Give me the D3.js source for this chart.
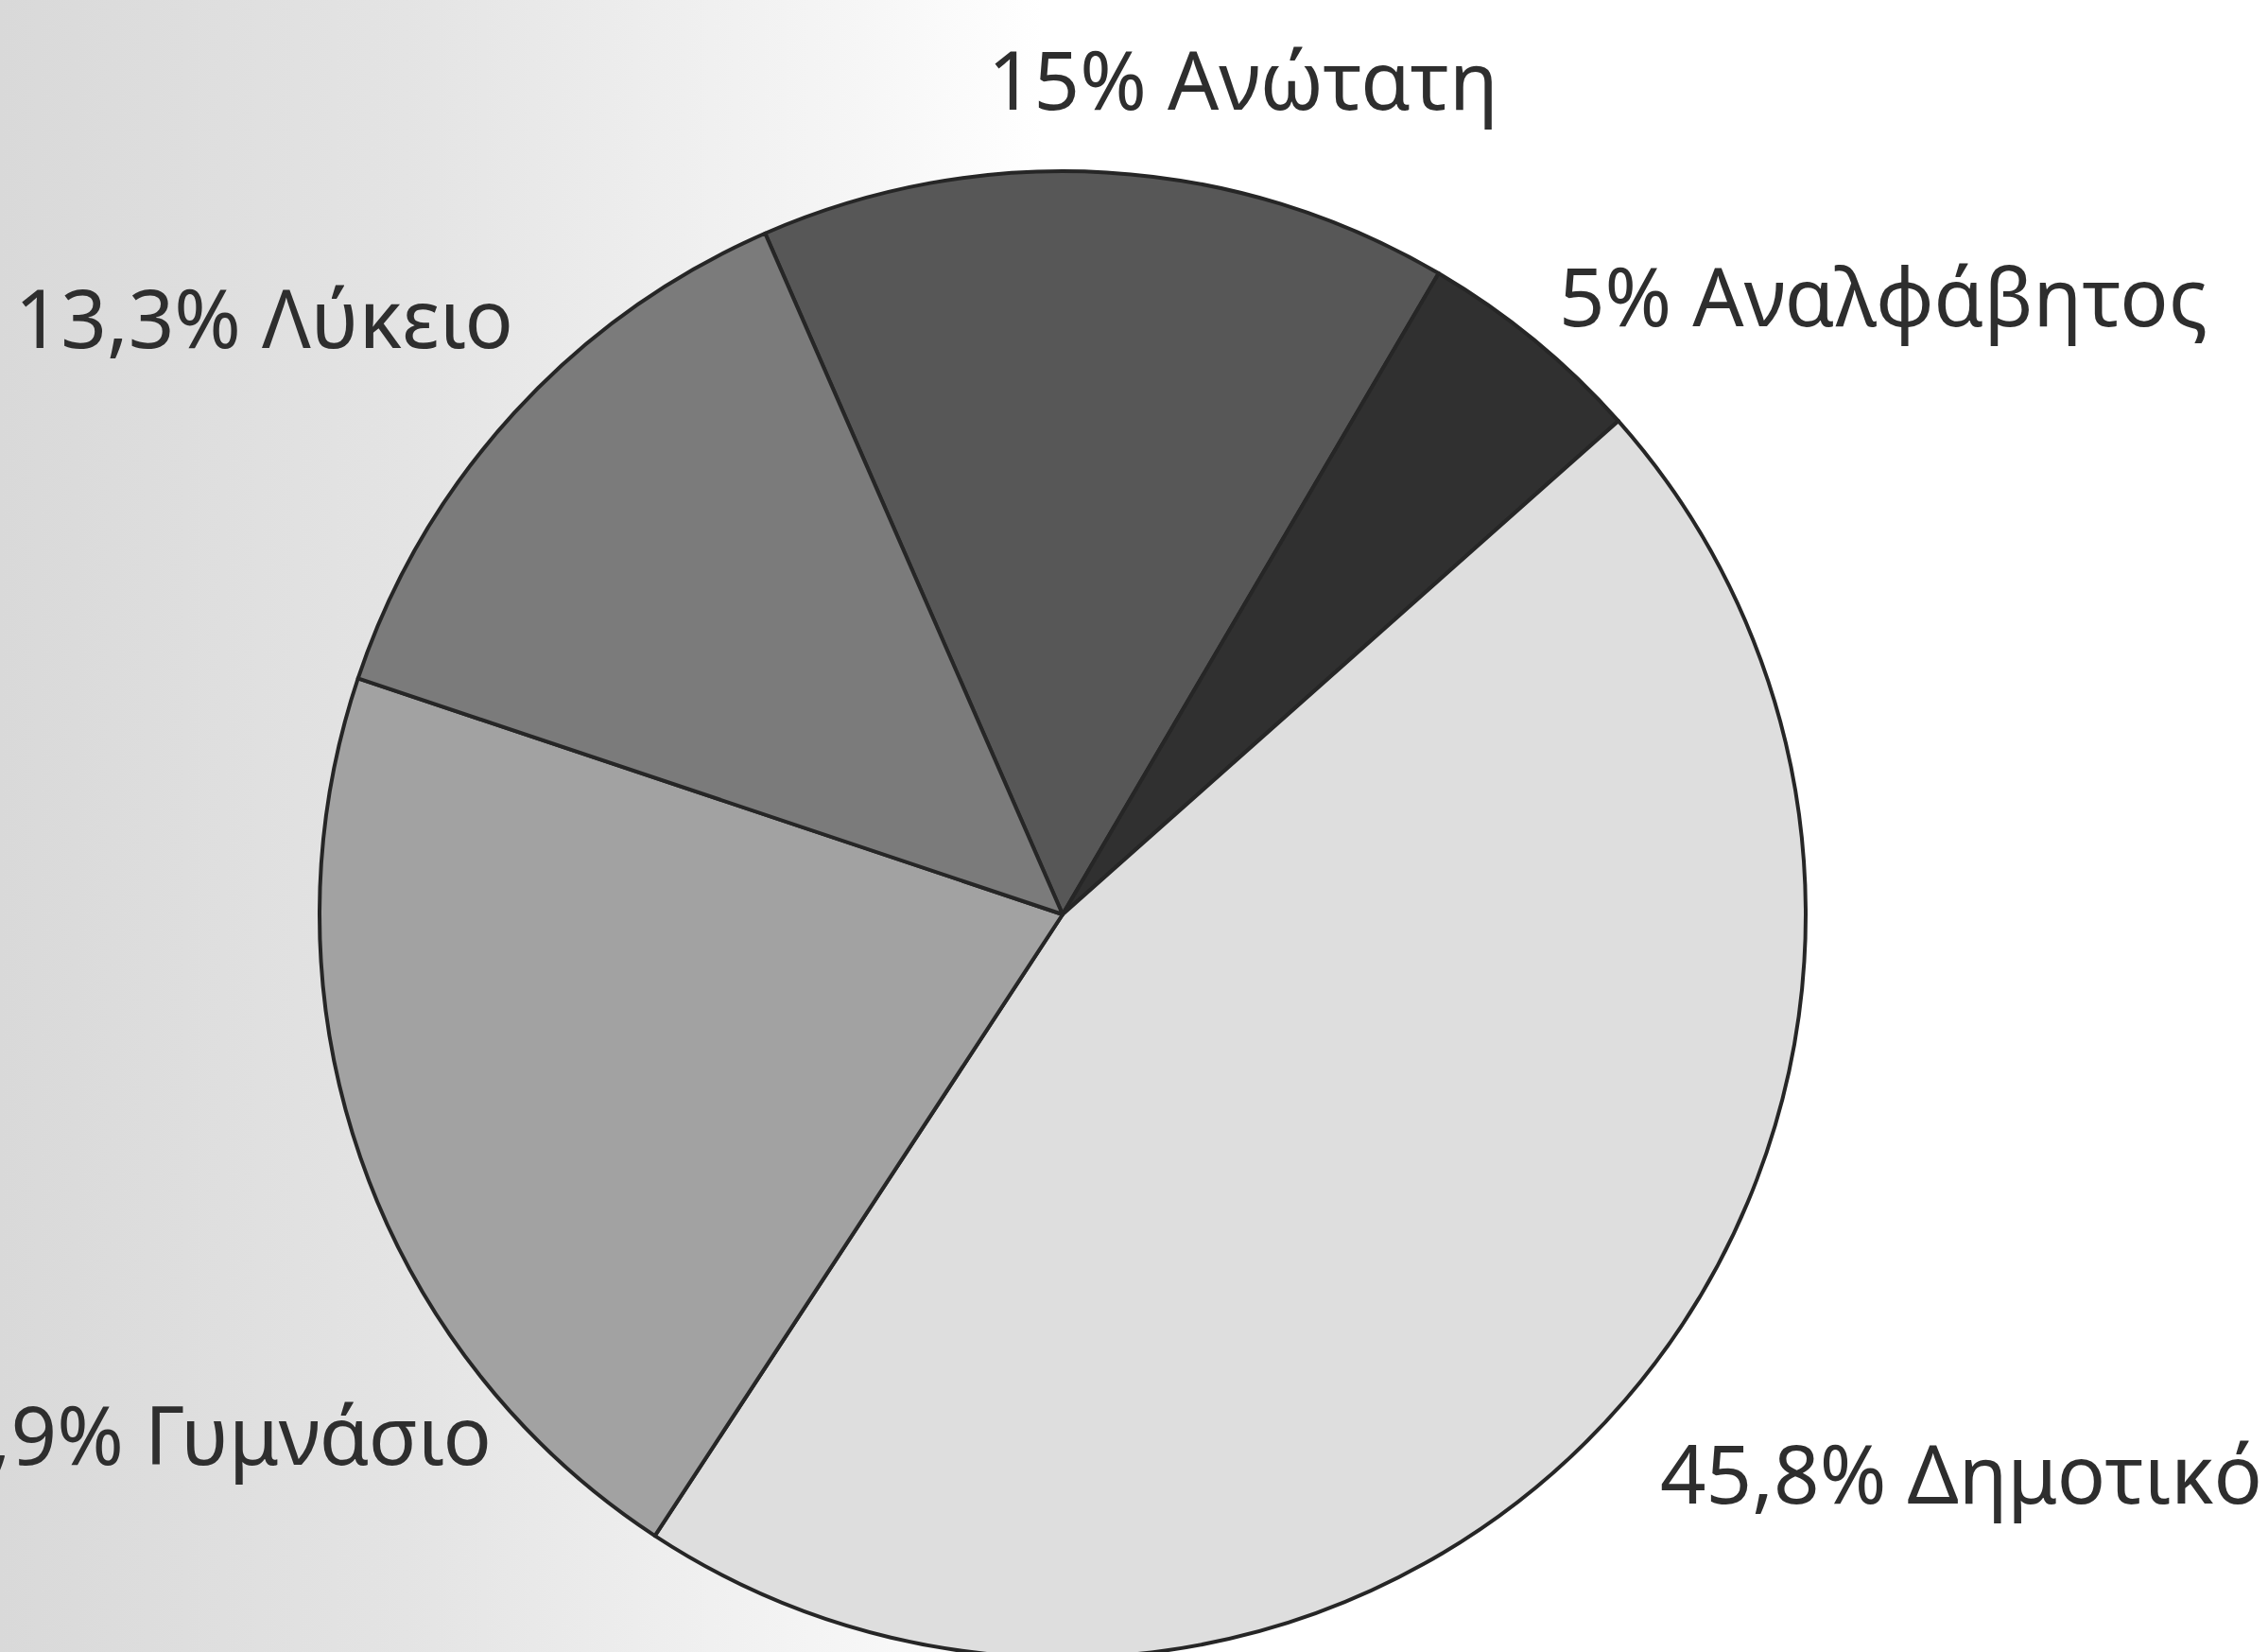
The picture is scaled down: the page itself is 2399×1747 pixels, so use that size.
<!DOCTYPE html>
<html>
<head>
<meta charset="utf-8">
<script src="https://cdn.jsdelivr.net/npm/d3@7"></script>
<style>
  html, body { margin: 0; padding: 0; background: #ffffff; overflow: hidden; }
  svg { display: block; }
</style>
</head>
<body>
<svg id="chart" width="2399" height="1747"></svg>
<script>
// ---- data ----
const categories = ["Ανώτατη", "Αναλφάβητος", "Δημοτικό", "Γυμνάσιο", "Λύκειο"];
const values = [15, 5, 45.8, 20.9, 13.3];
const valueLabels = ["15%", "5%", "45,8%", "20,9%", "13,3%"];

// ---- styles / layout (not data) ----
const fills = ["#575757", "#303030", "#dedede", "#a2a2a2", "#7b7b7b"];
const W = 2399, H = 1747;
const cx = 1124, cy = 967, R = 786;
const startDeg = -23.6;
// label anchors: [x, baseline y, anchor]
const labelLayout = [
  [1045, 116, "start"],
  [1649, 345, "start"],
  [1756, 1590, "start"],
  [520, 1549, "end"],
  [543, 368, "end"]
];

const svg = d3.select("#chart");

// scanned-page background tint on the left
const defs = svg.append("defs");
const grad = defs.append("linearGradient").attr("id", "bg").attr("x1", "0").attr("x2", "1").attr("y1", "0").attr("y2", "0");
grad.append("stop").attr("offset", "0").attr("stop-color", "#d9d9d9");
grad.append("stop").attr("offset", "0.18").attr("stop-color", "#e4e4e4");
grad.append("stop").attr("offset", "0.38").attr("stop-color", "#f6f6f6");
grad.append("stop").attr("offset", "0.46").attr("stop-color", "#ffffff");
grad.append("stop").attr("offset", "1").attr("stop-color", "#ffffff");
svg.append("rect").attr("width", W).attr("height", H).attr("fill", "url(#bg)");

const color = d3.scaleOrdinal().domain(categories).range(fills);

const pie = d3.pie()
  .sort(null)
  .value(d => d.value)
  .startAngle(startDeg * Math.PI / 180)
  .endAngle(startDeg * Math.PI / 180 + 2 * Math.PI);

const data = categories.map((c, i) => ({ cat: c, value: values[i], label: valueLabels[i] }));
const arcs = pie(data);
const arc = d3.arc().innerRadius(0).outerRadius(R);

const g = svg.append("g").attr("transform", `translate(${cx},${cy})`);
g.selectAll("path.slice")
  .data(arcs)
  .join("path")
  .attr("class", "slice")
  .attr("d", arc)
  .attr("fill", d => color(d.data.cat))
  .attr("stroke", "#262626")
  .attr("stroke-width", 4)
  .attr("stroke-linejoin", "round");

svg.selectAll("text.lbl")
  .data(arcs)
  .join("text")
  .attr("class", "lbl")
  .attr("x", (d, i) => labelLayout[i][0])
  .attr("y", (d, i) => labelLayout[i][1])
  .attr("text-anchor", (d, i) => labelLayout[i][2])
  .attr("font-family", "'Noto Sans', 'Open Sans', sans-serif")
  .attr("font-size", 85)
  .attr("fill", "#2e2e2e")
  .text(d => `${d.data.label} ${d.data.cat}`);
</script>
</body>
</html>
